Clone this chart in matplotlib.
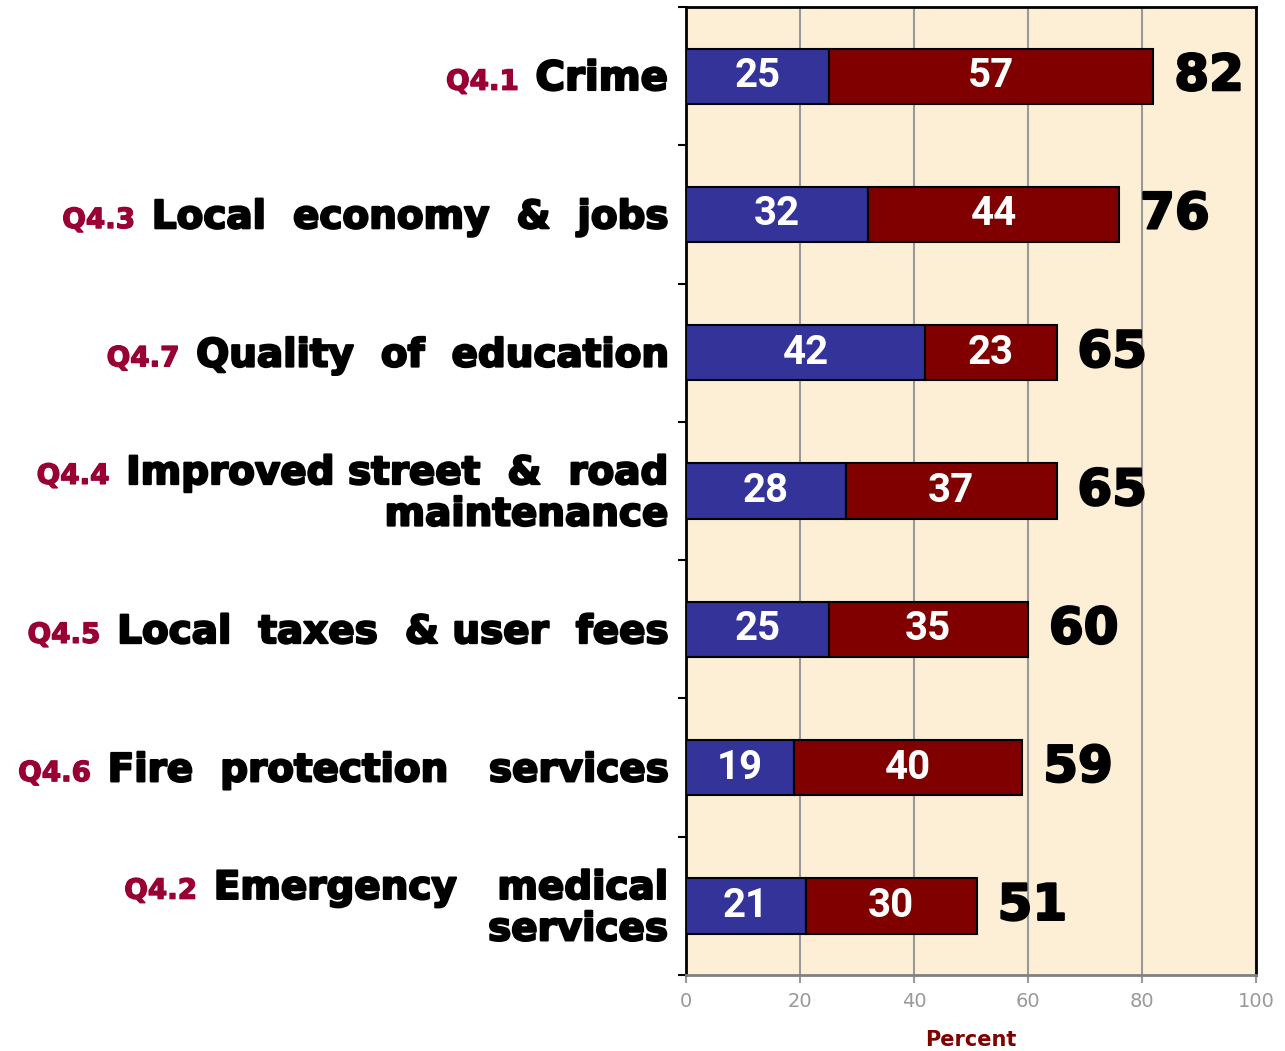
import matplotlib
matplotlib.use("Agg")
import matplotlib.pyplot as plt
import matplotlib.patheffects as pe
from matplotlib.transforms import blended_transform_factory

# survey items, top to bottom
codes = ["Q4.1", "Q4.3", "Q4.7", "Q4.4", "Q4.5", "Q4.6", "Q4.2"]
names = [
    ["Crime"],
    ["Local  economy  &  jobs"],
    ["Quality  of  education"],
    ["Improved street  &  road", "maintenance"],
    ["Local  taxes  & user  fees"],
    ["Fire  protection   services"],
    ["Emergency   medical", "services"],
]
first = [25, 32, 42, 28, 25, 19, 21]    # blue segment
second = [57, 44, 23, 37, 35, 40, 30]   # red segment
totals = [82, 76, 65, 65, 60, 59, 51]

BLUE = "#333399"
RED = "#800000"
QCOL = "#990033"
PAPER = "#fcefd6"

# fake a black-weight face by stroking the bold glyphs
heavy = [pe.withStroke(linewidth=1.6, foreground="black")]
heavy_q = [pe.withStroke(linewidth=1.0, foreground=QCOL)]

fig = plt.figure(figsize=(12.85, 10.51), dpi=100)
ax = fig.add_axes([0.5339, 0.0723, 0.4436, 0.921])
ax.set_facecolor(PAPER)

y = list(range(len(codes)))
h = 0.4
ax.barh(y, first, height=h, color=BLUE, edgecolor="black", linewidth=1.5, zorder=3)
ax.barh(y, second, left=first, height=h, color=RED, edgecolor="black", linewidth=1.5, zorder=3)

for i in y:
    ax.text(first[i] / 2, i, str(first[i]), ha="center", va="center", color="white",
            fontsize=29, fontweight="bold", family="Roboto", zorder=4)
    ax.text(first[i] + second[i] / 2, i, str(second[i]), ha="center", va="center", color="white",
            fontsize=29, fontweight="bold", family="Roboto", zorder=4)
    ax.annotate(str(totals[i]), xy=(totals[i], i), xytext=(15, 0), textcoords="offset points",
                ha="left", va="center", fontsize=36, fontweight="bold", color="black",
                family="DejaVu Sans", zorder=4, path_effects=heavy)

ax.set_xlim(0, 100)
ax.set_ylim(len(codes) - 0.5, -0.5)
ax.set_xticks([0, 20, 40, 60, 80, 100])
ax.set_yticks([k - 0.5 for k in range(len(codes) + 1)])
ax.set_yticklabels([])
ax.tick_params(axis="y", direction="out", length=6, width=1.5, color="black")
ax.tick_params(axis="x", direction="out", length=6, width=1.5, color="#999999",
               labelcolor="#999999", labelsize=14, pad=6)
ax.grid(axis="x", color="#999999", linewidth=1.5, zorder=1)
ax.set_axisbelow(True)

for s in ["left", "top", "right"]:
    ax.spines[s].set_linewidth(2)
    ax.spines[s].set_color("black")
ax.spines["bottom"].set_color("#808080")
ax.spines["bottom"].set_linewidth(2)

ax.set_xlabel("Percent", color=RED, fontsize=15, fontweight="bold", labelpad=14)

# category labels left of the axis, item code in front of the first line
trans = blended_transform_factory(ax.transAxes, ax.transData)
for i in y:
    lines = names[i]
    if len(lines) == 1:
        offs = [0.02]
    else:
        offs = [-0.13, 0.17]
    texts = []
    for line, off in zip(lines, offs):
        t = ax.text(-0.032, i + off, line, transform=trans, ha="right", va="center",
                    fontsize=29 if len(lines[0]) < 6 else 28, fontweight="bold",
                    color="black", family="DejaVu Sans", path_effects=heavy)
        texts.append(t)
    ax.annotate(codes[i], xy=(0, 0.5), xycoords=texts[0], xytext=(-12, -2),
                textcoords="offset points", ha="right", va="center",
                fontsize=20, fontweight="bold", color=QCOL, family="DejaVu Sans",
                path_effects=heavy_q)

fig.savefig("out.png", dpi=100)
